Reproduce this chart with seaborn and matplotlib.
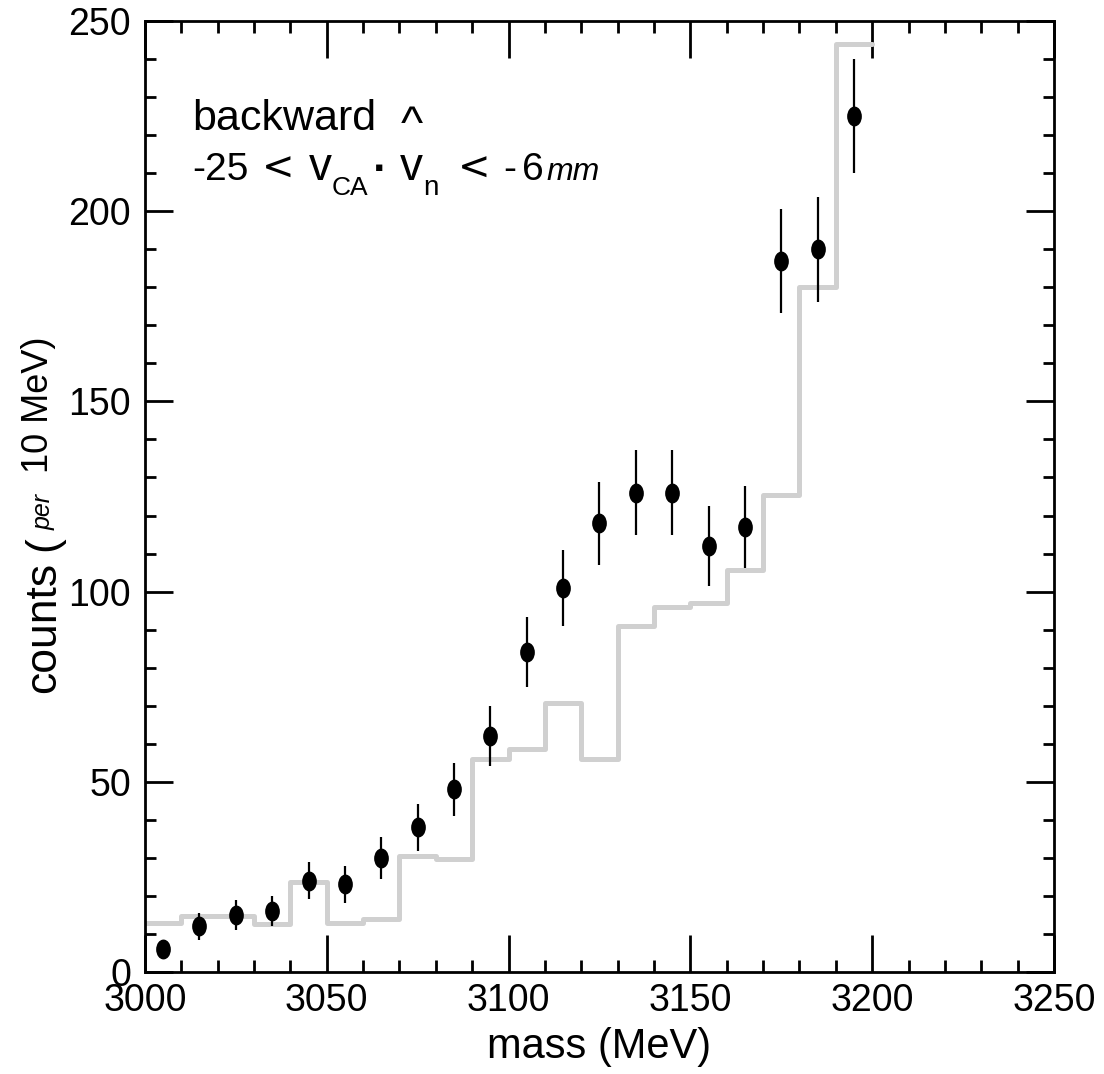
import matplotlib
matplotlib.use("Agg")
import matplotlib.pyplot as plt
from matplotlib.path import Path
from matplotlib.transforms import Affine2D
from matplotlib.ticker import MultipleLocator
import seaborn as sns

# 10 MeV bins from 3000 to 3200 MeV
bin_edges = [3000, 3010, 3020, 3030, 3040, 3050, 3060, 3070, 3080, 3090, 3100,
             3110, 3120, 3130, 3140, 3150, 3160, 3170, 3180, 3190, 3200]
mass = [3005, 3015, 3025, 3035, 3045, 3055, 3065, 3075, 3085, 3095,
        3105, 3115, 3125, 3135, 3145, 3155, 3165, 3175, 3185, 3195]

# measured counts and their errors
counts = [6, 12, 15, 16, 24, 23, 30, 38, 48, 62,
          84, 101, 118, 126, 126, 112, 117, 187, 190, 225]
count_err = [2.4, 3.5, 3.9, 4.0, 4.9, 4.8, 5.5, 6.2, 6.9, 7.9,
             9.2, 10.0, 10.9, 11.2, 11.2, 10.6, 10.8, 13.7, 13.8, 15.0]

# reference histogram (grey steps)
expected = [12.8, 14.8, 14.8, 12.6, 23.7, 12.8, 13.8, 30.5, 29.6, 56.0,
            58.6, 70.6, 55.9, 91.0, 96.0, 97.0, 105.7, 125.3, 180.0, 244.0]

sns.set_style("ticks")
plt.rcParams["font.family"] = ["Liberation Sans", "DejaVu Sans"]
plt.rcParams["text.color"] = "black"
plt.rcParams["axes.labelcolor"] = "black"

fig = plt.figure(figsize=(11.04, 10.74), dpi=100)
ax = fig.add_axes([0.1313, 0.0950, 0.8234, 0.8854])

sns.histplot(x=mass, weights=expected, bins=bin_edges, element="step",
             fill=False, color="#d0d0d0", linewidth=3.6, ax=ax, zorder=2)

ax.errorbar(mass, counts, yerr=count_err, fmt="none", ecolor="black",
            elinewidth=1.6, capsize=0, zorder=3)
oval = Path.unit_circle().transformed(Affine2D().scale(0.74, 1.0))
sns.scatterplot(x=mass, y=counts, marker=oval, s=205, color="black",
                linewidth=0, ax=ax, zorder=4)

ax.set_xlim(3000, 3250)
ax.set_ylim(0, 250)
ax.xaxis.set_major_locator(MultipleLocator(50))
ax.xaxis.set_minor_locator(MultipleLocator(10))
ax.yaxis.set_major_locator(MultipleLocator(50))
ax.yaxis.set_minor_locator(MultipleLocator(10))
ax.tick_params(which="both", direction="in", top=True, right=True,
               width=2, color="black", labelcolor="black", labelsize=27)
ax.tick_params(axis="x", which="major", length=26.5, pad=8)
ax.tick_params(axis="x", which="minor", length=8.5)
ax.tick_params(axis="y", which="major", length=20, pad=10)
ax.tick_params(axis="y", which="minor", length=8)
for sp in ax.spines.values():
    sp.set_linewidth(2)
    sp.set_color("black")

ax.set_xlabel("mass (MeV)", fontsize=30, labelpad=6)
ax.set_ylabel("")

# y-axis title, built from pieces of different sizes
YLAB_X = -0.0990


def ypiece(prev, s, size, dx=0, dy=0, **kw):
    return ax.annotate(s, xy=(YLAB_X, 1), xycoords=(ax.transAxes, prev),
                       xytext=(dx, dy), textcoords="offset points",
                       fontsize=size, rotation=90, rotation_mode="anchor",
                       ha="left", va="baseline", **kw)

t = ax.text(YLAB_X, 0.2934, "counts", transform=ax.transAxes, fontsize=32,
            rotation=90, rotation_mode="anchor", ha="left", va="baseline")
t = ypiece(t, "(", 32, dy=8)
t = ypiece(t, "per", 18, dx=-3, dy=4, style="italic")
t = ypiece(t, "10 MeV)", 26, dx=-5, dy=15)

# cut annotation
ax.text(0.0517, 0.885, "backward", transform=ax.transAxes, fontsize=31,
        va="baseline", ha="left")

y0 = 0.833


def piece(prev, s, size, dx=0, dy=0, va="baseline", **kw):
    return ax.annotate(s, xy=(1, y0), xycoords=(prev, ax.transAxes),
                       xytext=(dx, dy), textcoords="offset points",
                       fontsize=size, ha="left", va=va, **kw)

t = ax.text(0.0517, y0, "-25", transform=ax.transAxes, fontsize=28,
            va="baseline", ha="left")
t = piece(t, "<", 28, dx=10, family=["DejaVu Sans"])
t = piece(t, "v", 33, dx=10)
t = piece(t, "CA", 19, dx=0, dy=-11)
t = piece(t, "\u25aa", 9, dx=5, dy=8.6, va="center", family=["DejaVu Sans"])
tv = piece(t, "v", 33, dx=12)
ax.annotate("^", xy=(0.5, y0), xycoords=(tv, ax.transAxes), xytext=(0, 30),
            textcoords="offset points", fontsize=34, ha="center", va="baseline")
t = piece(tv, "n", 20, dx=0, dy=-11)
t = piece(t, "<", 28, dx=14, family=["DejaVu Sans"])
t = piece(t, "-", 28, dx=9)
t = piece(t, "6", 28, dx=4)
t = piece(t, "mm", 23, dx=2, style="italic")

fig.savefig("out.png", dpi=100)
